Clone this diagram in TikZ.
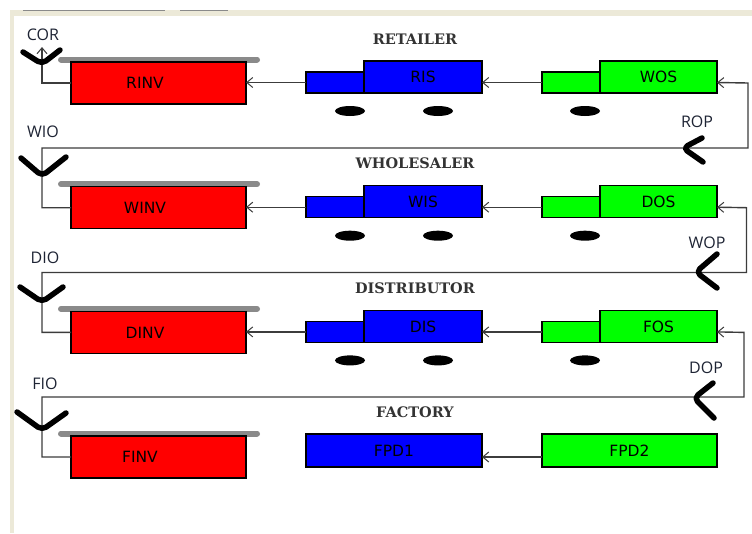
\documentclass[tikz,border=0pt]{standalone}
\usepackage{fontspec}
\usetikzlibrary{arrows.meta,shapes.geometric}
\newfontfamily\lblfont{Open Sans}
\newfontfamily\boxfont{DejaVu Sans}
\newfontfamily\titlefont{DejaVu Serif}
\definecolor{wire}{RGB}{60,60,60}
\definecolor{lbl}{RGB}{30,36,52}
\definecolor{beige}{RGB}{236,233,216}
\definecolor{shelf}{RGB}{138,138,138}
\definecolor{pure red}{RGB}{255,0,0}
\definecolor{pure blue}{RGB}{0,0,255}
\definecolor{pure green}{RGB}{0,255,0}
\begin{document}
\begin{tikzpicture}[x=1pt,y=-1pt,
  ln/.style={draw=wire,line width=1.4pt},
  tip/.style={-{Straight Barb[length=6pt,width=10pt,line width=1pt]}},
  box/.style={draw=black,line width=1.2pt,inner sep=0pt,outer sep=0pt,anchor=north west},
  invbox/.style={box,fill=pure red,minimum width=175pt,minimum height=42pt},
  smallbox/.style={box,minimum width=58pt,minimum height=21pt},
  bigbox/.style={box,minimum width=117pt,minimum height=32pt,font=\boxfont\fontsize{15.5}{15.5}\selectfont,text=black},
  pdbox/.style={box,minimum width=175pt,minimum height=33pt,font=\boxfont\fontsize{15.5}{15.5}\selectfont,text=black},
  boxtxt/.style={font=\boxfont\fontsize{15.5}{15.5}\selectfont,text=black,inner sep=0pt},
  ttl/.style={font=\titlefont\bfseries\fontsize{14.5}{14.5}\selectfont,text=black!80,inner sep=0pt},
  tag/.style={font=\lblfont\fontsize{16}{16}\selectfont,text=lbl,inner sep=0pt},
  puck/.style={ellipse,fill=black,minimum width=30pt,minimum height=10pt,inner sep=0pt},
  stroke/.style={line width=5.5pt,line cap=round,line join=round,rounded corners=5pt},
  shelfbar/.style={draw=shelf,line width=6pt,line cap=round}
]
\useasboundingbox (0,0) rectangle (752,533);
% window frame
\fill[white] (0,0) rectangle (752,533);
\fill[beige] (10,10) rectangle (752,15.5);
\fill[beige] (10,10) rectangle (13.5,533);
\draw[shelf,line width=1pt] (23,10.5) -- (165,10.5) (180,10.5) -- (228,10.5);

% three identical echelons
\foreach \k/\inv/\is/\os/\ttlname in {1/RINV/RIS/WOS/RETAILER,2/WINV/WIS/DOS/WHOLESALER,3/DINV/DIS/FOS/DISTRIBUTOR}{
  \pgfmathsetmacro\dy{(\k-1)*124.7}
  \node[ttl] (title\k) at (415,39+\dy) {\ttlname};
  \draw[shelfbar] (61,59.5+\dy) -- (257,59.5+\dy);
  \node[invbox] (inv\k) at (71,62+\dy) {};
  \node[boxtxt] (invt\k) at (145,83+\dy) {\inv};
  \node[smallbox,fill=pure blue] (isx\k) at (306,72+\dy) {};
  \node[bigbox,fill=pure blue,minimum width=118pt] (isb\k) at (364,61+\dy) {\is};
  \node[smallbox,fill=pure green] (osx\k) at (542,72+\dy) {};
  \node[bigbox,fill=pure green] (osb\k) at (600,61+\dy) {\os};
  \node[puck] (pa\k) at (350,111+\dy) {};
  \node[puck] (pb\k) at (438,111+\dy) {};
  \node[puck] (pc\k) at (585,111+\dy) {};
  \draw[ln,tip] (isx\k.west) -- (inv\k.east |- isx\k.west);
  \draw[ln,tip] (osx\k.west) -- (osx\k.west -| isb\k.east);
}

% factory echelon
\node[ttl] (title4) at (415,412) {FACTORY};
\draw[shelfbar] (61,433.5) -- (257,433.5);
\node[invbox] (inv4) at (71,436) {};
\node[boxtxt] (invt4) at (140,457) {FINV};
\node[pdbox,fill=pure blue,minimum width=176pt] (fpd1) at (306,434) {FPD1};
\node[pdbox,fill=pure green] (fpd2) at (542,434) {FPD2};
\draw[ln,tip] (fpd2.west |- inv4.east) -- (fpd1.east |- inv4.east);

% customer order at the retailer
\coordinate (cor) at (42,47);
\draw[ln,tip] (inv1.west) -| (cor);
\draw[stroke] (23,52) -- (42,64) -- (60,50);
\node[tag] (corl) at (43,35) {COR};

% order links back up the chain
\coordinate (up2) at (42,148);   \coordinate (rt2) at (748,83);
\coordinate (up3) at (42,272.5); \coordinate (rt3) at (746.5,207.7);
\coordinate (up4) at (42,397);   \coordinate (rt4) at (744,332.4);
\draw[ln,tip] (inv2.west) -| (up2) -| (rt2) -- (osx1.west -| osb1.east);
\draw[ln,tip] (inv3.west) -| (up3) -| (rt3) -- (osx2.west -| osb2.east);
\draw[ln,tip] (inv4.west) -| (up4) -| (rt4) -- (osx3.west -| osb3.east);

% incoming order marks
\draw[stroke] (21,158) -- (42,176) -- (66,157);
\draw[stroke] (20,287) -- (42,302) -- (63,287);
\draw[stroke] (17,412) -- (42,430) -- (66,413);
\node[tag] (wio) at (43,132) {WIO};
\node[tag] (dio) at (45,257.5) {DIO};
\node[tag] (fio) at (45,384) {FIO};

% outgoing order marks
\draw[stroke] (702,138) -- (683,148) -- (703,162);
\draw[stroke] (717,254) -- (696,272) -- (717,288);
\draw[stroke] (713,383) -- (694,398) -- (714,418);
\node[tag] (rop) at (697,122) {ROP};
\node[tag] (wop) at (707,243) {WOP};
\node[tag] (dop) at (706,368) {DOP};
\end{tikzpicture}
\end{document}
